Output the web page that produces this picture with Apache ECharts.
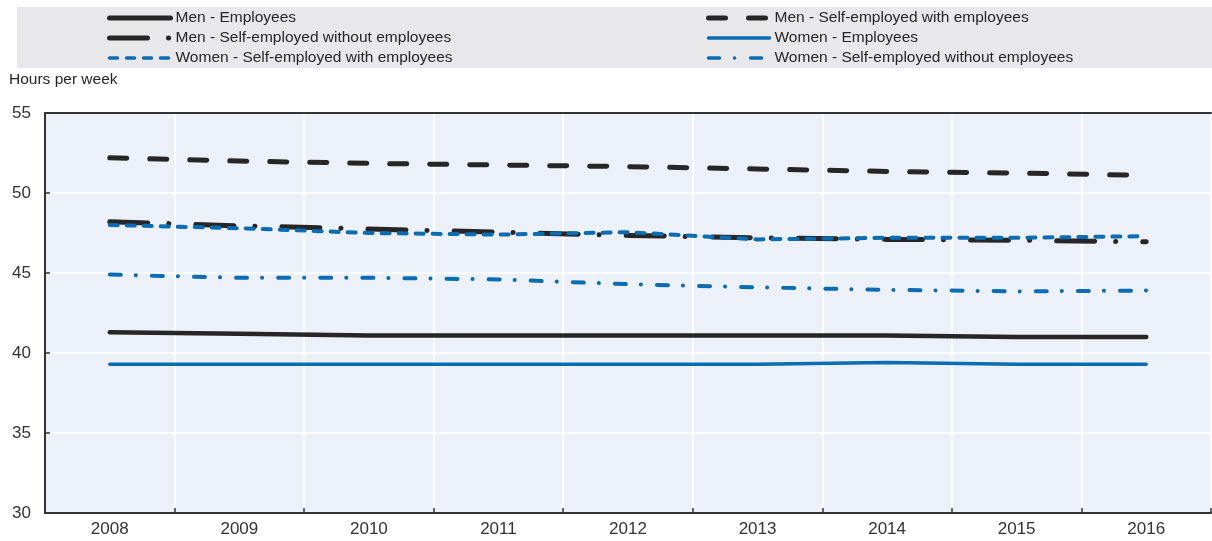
<!DOCTYPE html>
<html>
<head>
<meta charset="utf-8">
<script src="https://cdn.jsdelivr.net/npm/echarts@6/dist/echarts.min.js"></script>
<style>
  html, body { margin: 0; padding: 0; background: #fff; }
  #chart { width: 1212px; height: 541px; }
</style>
</head>
<body>
<div id="chart"></div>
<script>
// data
const years = ['2008', '2009', '2010', '2011', '2012', '2013', '2014', '2015', '2016']
const menEmployees = [41.3, 41.2, 41.1, 41.1, 41.1, 41.1, 41.1, 41.0, 41.0]
const menSelfWith = [52.2, 52.0, 51.85, 51.75, 51.65, 51.5, 51.35, 51.25, 51.1]
const menSelfWithout = [48.2, 47.95, 47.75, 47.55, 47.35, 47.2, 47.1, 47.05, 46.95]
const womenEmployees = [39.3, 39.3, 39.3, 39.3, 39.3, 39.3, 39.4, 39.3, 39.3]
const womenSelfWith = [48.0, 47.8, 47.5, 47.4, 47.55, 47.1, 47.2, 47.2, 47.3]
const womenSelfWithout = [44.9, 44.7, 44.7, 44.6, 44.3, 44.1, 43.95, 43.85, 43.9]
const yTicks = [30, 35, 40, 45, 50, 55]

const BLACK = '#262626'
const BLUE = '#0a6cb3'
const FONT = "'Liberation Sans', Arial, sans-serif"

const chart = echarts.init(document.getElementById('chart'))

const mkLine = (name, data, color, width, type) => ({
  name,
  type: 'line',
  data,
  symbol: 'none',
  itemStyle: { color },
  lineStyle: { color, width, type, cap: 'round', join: 'round' },
  z: 3
})

// legend entries, line width of the icon a bit bolder like the original
const legendItem = (name, width) => ({ name, lineStyle: { width } })

const legendBase = {
  orient: 'vertical',
  top: 10,
  padding: 0,
  itemWidth: 61,
  itemHeight: 12,
  itemGap: 4,
  itemStyle: { opacity: 0 },
  textStyle: { fontFamily: FONT, fontSize: 15.5, color: '#262626' },
  selectedMode: false
}

chart.setOption({
  animation: false,
  textStyle: { fontFamily: FONT },
  graphic: [{
    type: 'rect',
    left: 17, top: 7,
    shape: { width: 1195, height: 61 },
    style: { fill: '#e8e8ea' },
    z: -1
  }],
  title: {
    text: 'Hours per week',
    left: 9, top: 72, padding: 0,
    textStyle: { fontFamily: FONT, fontSize: 15.5, fontWeight: 'normal', color: '#262626' }
  },
  legend: [
    Object.assign({}, legendBase, {
      left: 107,
      data: [
        legendItem('Men - Employees', 5),
        legendItem('Men - Self-employed without employees', 5),
        legendItem('Women - Self-employed with employees', 3.5)
      ]
    }),
    Object.assign({}, legendBase, {
      left: 706,
      data: [
        legendItem('Men - Self-employed with employees', 5),
        legendItem('Women - Employees', 3.5),
        legendItem('Women - Self-employed without employees', 3.5)
      ]
    })
  ],
  grid: {
    left: 45, right: 1, top: 113, bottom: 28,
    show: true, backgroundColor: '#ecf0f8', borderWidth: 0
  },
  xAxis: [{
    type: 'category',
    data: years,
    boundaryGap: true,
    axisLine: { lineStyle: { color: '#333', width: 2 } },
    axisTick: { show: true, inside: true, length: 5, interval: 0, lineStyle: { color: '#333', width: 1.5 } },
    axisLabel: { fontFamily: FONT, fontSize: 17, color: '#333', margin: 8, interval: 0 },
    splitLine: { show: true, interval: 0, lineStyle: { color: '#fff', width: 2 } }
  }, {
    type: 'category',
    position: 'top',
    data: years,
    axisLine: { show: true, lineStyle: { color: '#333', width: 2 } },
    axisTick: { show: false },
    axisLabel: { show: false },
    splitLine: { show: false }
  }],
  yAxis: {
    type: 'value',
    min: yTicks[0],
    max: yTicks[yTicks.length - 1],
    interval: 5,
    axisLine: { show: true, lineStyle: { color: '#333', width: 2 } },
    axisTick: { show: true, inside: true, length: 5, lineStyle: { color: '#333', width: 1.5 } },
    axisLabel: { fontFamily: FONT, fontSize: 17, color: '#333', margin: 14 },
    splitLine: { show: true, lineStyle: { color: '#fff', width: 2 } }
  },
  series: [
    mkLine('Men - Employees', menEmployees, BLACK, 4.5, 'solid'),
    mkLine('Men - Self-employed with employees', menSelfWith, BLACK, 5, [17, 23]),
    mkLine('Men - Self-employed without employees', menSelfWithout, BLACK, 5, [38, 21, 0.1, 27]),
    mkLine('Women - Employees', womenEmployees, BLUE, 3.5, 'solid'),
    mkLine('Women - Self-employed with employees', womenSelfWith, BLUE, 4, [8, 9]),
    mkLine('Women - Self-employed without employees', womenSelfWithout, BLUE, 4, [11, 15, 0.1, 16])
  ]
})
</script>
</body>
</html>
